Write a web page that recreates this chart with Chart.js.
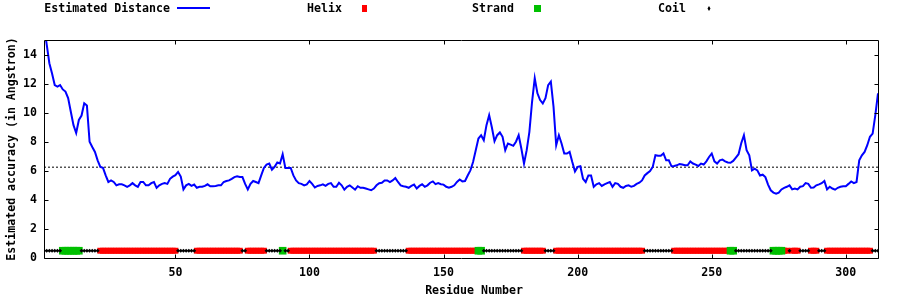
<!DOCTYPE html>
<html>
<head>
<meta charset="utf-8">
<script src="https://cdn.jsdelivr.net/npm/chart.js@4.4.1/dist/chart.umd.min.js"></script>
<style>
    html, body { margin: 0; padding: 0; background: #fff; }
    #wrap { width: 900px; height: 300px; }
</style>
</head>
<body>
<div id="wrap"><canvas id="distChart" width="900" height="300"></canvas></div>
<script>
// **Data**
const distances = [
    16.0, 14.7, 13.4, 12.7, 11.9, 11.8, 11.9, 11.6, 11.45, 11.0,
    10.06, 9.14, 8.6, 9.5, 9.8, 10.65, 10.5, 8.0, 7.64, 7.3,
    6.72, 6.27, 6.2, 5.69, 5.23, 5.34, 5.23, 5.0, 5.07, 5.07,
    5.0, 4.9, 5.0, 5.15, 5.0, 4.9, 5.23, 5.23, 5.0, 5.0,
    5.15, 5.23, 4.83, 5.0, 5.1, 5.15, 5.1, 5.45, 5.6, 5.7,
    5.92, 5.6, 4.72, 5.0, 5.1, 4.96, 5.05, 4.83, 4.9, 4.9,
    4.96, 5.07, 4.94, 4.94, 4.96, 5.0, 5.0, 5.23, 5.3, 5.34,
    5.45, 5.57, 5.62, 5.57, 5.57, 5.1, 4.72, 5.1, 5.3, 5.23,
    5.15, 5.68, 6.2, 6.43, 6.5, 6.08, 6.27, 6.57, 6.5, 7.14,
    6.2, 6.2, 6.2, 5.68, 5.34, 5.15, 5.1, 5.0, 5.07, 5.3,
    5.1, 4.85, 4.96, 5.0, 5.07, 4.96, 5.1, 5.15, 4.9, 4.9,
    5.18, 5.0, 4.7, 4.9, 5.0, 4.85, 4.7, 4.94, 4.83, 4.83,
    4.78, 4.72, 4.66, 4.78, 5.0, 5.15, 5.18, 5.34, 5.34, 5.23,
    5.34, 5.5, 5.23, 5.0, 4.94, 4.9, 4.83, 4.96, 5.05, 4.78,
    4.96, 5.07, 4.9, 5.0, 5.18, 5.27, 5.08, 5.15, 5.08, 5.05,
    4.9, 4.83, 4.9, 5.0, 5.23, 5.4, 5.27, 5.3, 5.68, 6.03,
    6.6, 7.42, 8.22, 8.45, 8.1, 9.14, 9.83, 9.0, 8.04, 8.45,
    8.64, 8.34, 7.42, 7.88, 7.8, 7.72, 8.0, 8.45, 7.53, 6.5,
    7.42, 8.68, 10.75, 12.37, 11.33, 10.87, 10.64, 11.0, 11.9, 12.14,
    10.41, 7.76, 8.45, 7.88, 7.19, 7.19, 7.3, 6.6, 5.96, 6.27,
    6.31, 5.45, 5.23, 5.68, 5.68, 4.9, 5.07, 5.15, 4.96, 5.07,
    5.15, 5.23, 4.9, 5.15, 5.1, 4.9, 4.83, 4.96, 5.0, 4.9,
    4.96, 5.1, 5.18, 5.34, 5.68, 5.84, 5.98, 6.27, 7.07, 7.03,
    7.03, 7.19, 6.72, 6.72, 6.31, 6.33, 6.38, 6.47, 6.43, 6.38,
    6.38, 6.65, 6.5, 6.43, 6.33, 6.5, 6.43, 6.65, 6.95, 7.19,
    6.65, 6.5, 6.72, 6.77, 6.65, 6.57, 6.55, 6.68, 6.91, 7.14,
    7.9, 8.45, 7.42, 7.07, 6.03, 6.15, 6.03, 5.68, 5.73, 5.57,
    5.05, 4.66, 4.5, 4.43, 4.5, 4.72, 4.83, 4.9, 5.0, 4.72,
    4.78, 4.72, 4.9, 4.94, 5.15, 5.1, 4.83, 4.85, 5.0, 5.07,
    5.15, 5.3, 4.72, 4.9, 4.78, 4.7, 4.83, 4.9, 4.94, 4.94,
    5.1, 5.27, 5.15, 5.23, 6.72, 7.07, 7.3, 7.76, 8.34, 8.56,
    9.83, 11.33
];
const cutoffLevel = 6.25;
const trackLevel = 0.5;

// secondary structure, residue ranges [first, last]
const helixRanges = [[22, 50], [58, 74], [77, 83], [93, 124], [137, 162], [180, 187],
    [192, 224], [236, 256], [277, 278], [280, 282], [287, 289], [293, 309]];
const strandRanges = [[8, 14], [90, 90], [163, 164], [257, 258], [273, 276]];
const coilRanges = [[1, 7], [15, 21], [51, 57], [75, 76], [84, 89], [91, 92], [125, 136],
    [165, 179], [188, 191], [225, 235], [259, 272], [279, 279], [283, 286], [290, 292], [310, 312]];

const xTickValues = [50, 100, 150, 200, 250, 300];
const yTickValues = [0, 2, 4, 6, 8, 10, 12, 14];
const xMin = 1, xMax = 312, yMin = 0, yMax = 15;

const legendLabels = ["Estimated Distance", "Helix", "Strand", "Coil"];
const xTitle = "Residue Number";
const yTitle = "Estimated accuracy (in Angstron)";

const FONT_FAMILY = '"DejaVu Sans Mono", "Liberation Mono", monospace';
const TICK_FONT = { family: FONT_FAMILY, size: 11.6, weight: "bold" };

// **Build point lists**
function rangesToPoints(ranges) {
    let pts = [];
    ranges.forEach(r => {
        for (let i = r[0]; i <= r[1]; i++) pts.push({ x: i, y: trackLevel });
    });
    return pts;
}

let distPoints = distances.map((v, i) => ({ x: i + 1, y: v }));

// **Frame, inward ticks, titles and key**
const gnuplotDecor = {
    id: "gnuplotDecor",
    afterDraw(chart) {
        let ctx = chart.ctx;
        let a = chart.chartArea;
        let xs = chart.scales.x, ys = chart.scales.y;
        let L = Math.round(a.left) + 0.5, R = Math.round(a.right) + 0.5;
        let T = Math.round(a.top) + 0.5, B = Math.round(a.bottom) + 0.5;
        const tic = 4;

        ctx.save();
        ctx.strokeStyle = "#000";
        ctx.lineWidth = 1;
        ctx.beginPath();
        ctx.rect(L, T, R - L, B - T);
        xTickValues.forEach(v => {
            let px = Math.round(xs.getPixelForValue(v)) + 0.5;
            ctx.moveTo(px, B); ctx.lineTo(px, B - tic);
            ctx.moveTo(px, T); ctx.lineTo(px, T + tic);
        });
        yTickValues.forEach(v => {
            let py = Math.round(ys.getPixelForValue(v)) + 0.5;
            ctx.moveTo(L, py); ctx.lineTo(L + tic, py);
            ctx.moveTo(R, py); ctx.lineTo(R - tic, py);
        });
        ctx.stroke();

        ctx.fillStyle = "#000";
        ctx.font = "bold 11.6px " + FONT_FAMILY;
        ctx.textBaseline = "middle";

        // axis titles
        ctx.textAlign = "center";
        ctx.fillText(xTitle, 474, 291);
        ctx.save();
        ctx.translate(12, (a.top + a.bottom) / 2);
        ctx.rotate(-Math.PI / 2);
        ctx.fillText(yTitle, 0, 0);
        ctx.restore();

        // key
        ctx.textAlign = "right";
        ctx.fillText(legendLabels[0], 170, 9);
        ctx.fillText(legendLabels[1], 342, 9);
        ctx.fillText(legendLabels[2], 514, 9);
        ctx.fillText(legendLabels[3], 686, 9);

        ctx.strokeStyle = "#0000ff";
        ctx.lineWidth = 2;
        ctx.beginPath();
        ctx.moveTo(177, 8); ctx.lineTo(210, 8);
        ctx.stroke();

        ctx.fillStyle = "#ff0000";
        ctx.fillRect(362, 5, 5, 7);
        ctx.fillStyle = "#00c000";
        ctx.fillRect(534, 5, 7, 7);
        ctx.fillStyle = "#000";
        ctx.beginPath();
        ctx.moveTo(709, 6); ctx.lineTo(710.5, 8.5); ctx.lineTo(709, 11); ctx.lineTo(707.5, 8.5);
        ctx.closePath();
        ctx.fill();
        ctx.restore();
    }
};

let ctx = document.getElementById("distChart").getContext("2d");
new Chart(ctx, {
    type: "line",
    data: {
        datasets: [
            {
                label: legendLabels[0],
                data: distPoints,
                borderColor: "#0000ff",
                borderWidth: 2,
                pointRadius: 0,
                tension: 0,
                order: 2
            },
            {
                label: "cutoff",
                data: [{ x: xMin, y: cutoffLevel }, { x: xMax, y: cutoffLevel }],
                borderColor: "#000",
                borderWidth: 1,
                borderDash: [2, 2],
                pointRadius: 0,
                order: 3
            },
            {
                label: legendLabels[1],
                data: rangesToPoints(helixRanges),
                showLine: false,
                pointStyle: "rect",
                pointRadius: 4.2,
                backgroundColor: "#ff0000",
                borderWidth: 0,
                order: 1
            },
            {
                label: legendLabels[2],
                data: rangesToPoints(strandRanges),
                showLine: false,
                pointStyle: "rect",
                pointRadius: 5.4,
                backgroundColor: "#00c000",
                borderWidth: 0,
                order: 0
            },
            {
                label: legendLabels[3],
                data: rangesToPoints(coilRanges),
                showLine: false,
                pointStyle: "rectRot",
                pointRadius: 2,
                backgroundColor: "#000",
                borderWidth: 0,
                order: -1
            }
        ]
    },
    options: {
        responsive: false,
        devicePixelRatio: 1,
        animation: false,
        events: [],
        layout: { padding: { left: 0, right: 22, top: 40, bottom: 0 } },
        plugins: { legend: { display: false }, tooltip: { enabled: false } },
        scales: {
            x: {
                type: "linear",
                min: xMin,
                max: xMax,
                grid: { display: false, drawTicks: false },
                border: { display: false },
                afterBuildTicks: s => { s.ticks = xTickValues.map(v => ({ value: v })); },
                afterFit: s => { s.height = 42; },
                ticks: { color: "#000", font: TICK_FONT, padding: 8, maxRotation: 0, autoSkip: false }
            },
            y: {
                min: yMin,
                max: yMax,
                grid: { display: false, drawTicks: false },
                border: { display: false },
                afterBuildTicks: s => { s.ticks = yTickValues.map(v => ({ value: v })); },
                afterFit: s => { s.width = 44; },
                ticks: { color: "#000", font: TICK_FONT, padding: 7, autoSkip: false }
            }
        }
    },
    plugins: [gnuplotDecor]
});
</script>
</body>
</html>
